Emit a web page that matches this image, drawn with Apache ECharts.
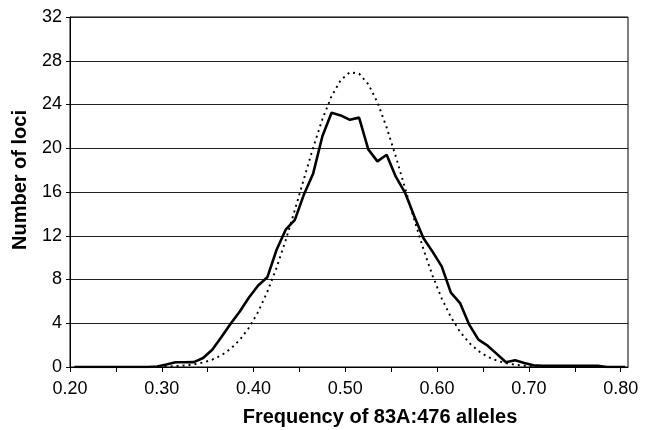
<!DOCTYPE html>
<html>
<head>
<meta charset="utf-8">
<script src="https://cdn.jsdelivr.net/npm/echarts@6/dist/echarts.min.js"></script>
<style>
html,body{margin:0;padding:0;background:#fff;}
#chart{width:645px;height:430px;}
</style>
</head>
<body>
<div id="chart"></div>
<script>
// Allele frequency bin centres
const frequency = [0.205,0.215,0.225,0.235,0.245,0.255,0.265,0.275,0.285,0.295,
  0.305,0.315,0.325,0.335,0.345,0.355,0.365,0.375,0.385,0.395,
  0.405,0.415,0.425,0.435,0.445,0.455,0.465,0.475,0.485,0.495,
  0.505,0.515,0.525,0.535,0.545,0.555,0.565,0.575,0.585,0.595,
  0.605,0.615,0.625,0.635,0.645,0.655,0.665,0.675,0.685,0.695,
  0.705,0.715,0.725,0.735,0.745,0.755,0.765,0.775,0.785,0.795,0.805];
// Observed number of loci (solid line)
const observed = [0,0,0,0,0,0,0,0,0,0.05,
  0.22,0.43,0.43,0.45,0.82,1.58,2.74,3.96,5.08,6.35,
  7.45,8.2,10.7,12.55,13.45,15.8,17.7,21.1,23.25,23.0,
  22.6,22.8,19.9,18.8,19.4,17.4,15.95,13.8,11.8,10.55,
  9.2,6.8,5.85,3.87,2.5,1.95,1.2,0.43,0.61,0.37,
  0.15,0.12,0.12,0.12,0.12,0.12,0.12,0.12,0,0,0];
// Expected number of loci (dotted line)
const expected = [0,0,0,0,0,0,0,0,0.01,0.02,
  0.04,0.08,0.14,0.24,0.41,0.67,1.07,1.66,2.48,3.59,
  5.04,6.87,9.06,11.59,14.36,17.24,20.07,22.65,24.76,26.24,
  26.95,26.82,25.87,24.19,21.91,19.24,16.38,13.51,10.8,8.36,
  6.28,4.57,3.22,2.2,1.46,0.94,0.58,0.35,0.21,0.12,
  0.06,0.03,0.02,0.01,0,0,0,0,0,0,0];
const xTicks = [0.20,0.25,0.30,0.35,0.40,0.45,0.50,0.55,0.60,0.65,0.70,0.75,0.80];
const xLabels = [0.20,0.30,0.40,0.50,0.60,0.70,0.80];

const font = '"Liberation Sans", Arial, Helvetica, sans-serif';
const chart = echarts.init(document.getElementById('chart'), null, {renderer:'canvas'});
chart.setOption({
  animation: false,
  backgroundColor: '#fff',
  grid: {left:70, top:17, right:17, bottom:63, containLabel:false, outerBoundsMode:'none',
         show:true, borderColor:'#000', borderWidth:1, backgroundColor:'transparent'},
  xAxis: {
    type:'value', min:0.2, max:0.808,
    axisLine:{show:true, onZero:false, lineStyle:{color:'#000', width:1}},
    axisTick:{show:true, inside:false, length:5, customValues:xTicks, lineStyle:{color:'#000'}},
    axisLabel:{customValues:xLabels, formatter:(v)=>v.toFixed(2), color:'#000', fontSize:18, fontFamily:font, margin:13},
    splitLine:{show:false}
  },
  yAxis: {
    type:'value', min:0, max:32, interval:4,
    axisLine:{show:true, lineStyle:{color:'#000', width:1}},
    axisTick:{show:true, inside:false, length:4, lineStyle:{color:'#000'}},
    axisLabel:{color:'#000', fontSize:18, fontFamily:font, margin:8},
    splitLine:{show:true, lineStyle:{color:'#222', width:1}}
  },
  graphic: [
    {type:'text', x:20, y:180, rotation:Math.PI/2,
     style:{text:'Number of loci', font:'bold 20px ' + font, fill:'#000', align:'center', verticalAlign:'middle'}},
    {type:'text', x:380, y:417,
     style:{text:'Frequency of 83A:476 alleles', font:'bold 20px ' + font, fill:'#000', align:'center', verticalAlign:'middle'}}
  ],
  series: [
    {type:'line', name:'expected', data: frequency.map((f,i)=>[f, expected[i]]),
     showSymbol:false, smooth:false, lineStyle:{color:'#000', width:1.9, type:[2,4]}},
    {type:'line', name:'observed', data: frequency.map((f,i)=>[f, observed[i]]),
     showSymbol:false, smooth:false, lineStyle:{color:'#000', width:2.6, type:'solid'}}
  ]
});
</script>
</body>
</html>
